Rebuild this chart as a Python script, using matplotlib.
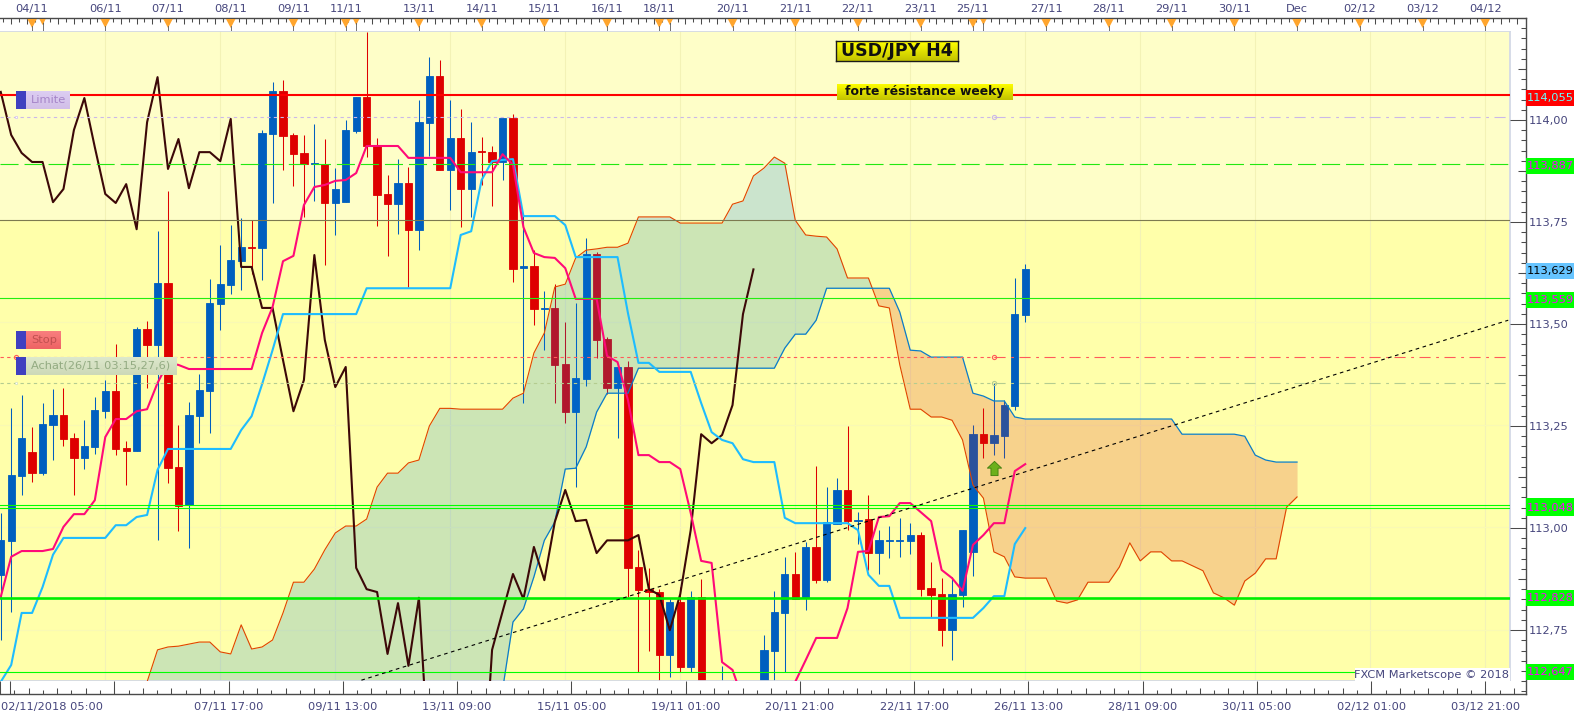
import numpy as np
import matplotlib
matplotlib.use("Agg")
import matplotlib.pyplot as plt
from matplotlib.patches import Rectangle
from matplotlib.path import Path

plt.rcParams['font.family'] = ['DejaVu Sans']
plt.rcParams['lines.scale_dashes'] = False

W, H = 1583, 720

# H4 candles, one row per 10 bars. bars 68-72 are below the visible range, guessed
opens = [
    112.883, 112.966, 113.125, 113.183, 113.132, 113.249, 113.274, 113.217, 113.169, 113.196,
    113.283, 113.332, 113.193, 113.186, 113.483, 113.444, 113.596, 113.147, 113.054, 113.271,
    113.332, 113.544, 113.591, 113.649, 113.683, 113.681, 113.959, 114.064, 113.957, 113.913,
    113.886, 113.886, 113.791, 113.793, 113.967, 114.049, 113.930, 113.813, 113.788, 113.840,
    113.725, 113.986, 114.101, 113.871, 113.949, 113.825, 113.918, 113.915, 113.891, 113.998,
    113.632, 113.637, 113.532, 113.535, 113.398, 113.281, 113.362, 113.666, 113.459, 113.339,
    113.391, 112.903, 112.849, 112.842, 112.689, 112.818, 112.659, 112.830, 112.408, 112.350,
    112.500, 112.420, 112.360, 112.300, 112.698, 112.791, 112.886, 112.828, 112.952, 112.871,
    113.008, 113.091, 113.015, 113.020, 112.937, 112.966, 112.966, 112.966, 112.981, 112.852,
    112.837, 112.749, 112.835, 112.940, 113.227, 113.205, 113.222, 113.295, 113.518]
highs = [
    113.034, 113.290, 113.322, 113.244, 113.303, 113.337, 113.339, 113.229, 113.261, 113.317,
    113.359, 113.447, 113.210, 113.488, 113.503, 113.722, 113.820, 113.249, 113.305, 113.374,
    113.606, 113.688, 113.737, 113.754, 113.749, 113.969, 114.086, 114.091, 113.962, 113.957,
    113.984, 113.947, 113.876, 113.993, 114.049, 114.208, 113.949, 113.859, 113.898, 113.879,
    114.042, 114.147, 114.140, 114.042, 114.020, 113.988, 113.952, 113.930, 113.998, 114.008,
    113.762, 113.676, 113.576, 113.593, 113.501, 113.547, 113.706, 113.671, 113.464, 113.391,
    113.406, 112.945, 112.901, 112.849, 112.825, 112.854, 112.845, 112.874, 112.450, 112.662,
    112.628, 112.500, 112.450, 112.737, 112.845, 112.928, 112.940, 112.964, 113.149, 113.098,
    113.120, 113.247, 113.037, 113.078, 112.993, 113.003, 113.023, 113.010, 112.988, 112.915,
    112.876, 112.879, 112.993, 113.249, 113.290, 113.352, 113.310, 113.608, 113.642]
lows = [
    112.725, 112.794, 113.078, 113.110, 113.127, 113.164, 113.198, 113.078, 113.142, 113.178,
    113.266, 113.176, 113.103, 113.186, 113.339, 112.968, 113.108, 112.991, 112.949, 113.205,
    113.229, 113.481, 113.569, 113.579, 113.618, 113.603, 113.791, 113.871, 113.832, 113.757,
    113.796, 113.640, 113.713, 113.793, 113.962, 113.903, 113.735, 113.662, 113.715, 113.586,
    113.676, 113.906, 113.871, 113.774, 113.732, 113.757, 113.835, 113.784, 113.847, 113.598,
    113.303, 113.493, 113.432, 113.303, 113.254, 113.098, 113.344, 113.413, 113.325, 113.217,
    112.830, 112.647, 112.698, 112.623, 112.635, 112.647, 112.647, 112.380, 112.300, 112.300,
    112.380, 112.300, 112.250, 112.270, 112.600, 112.647, 112.825, 112.798, 112.864, 112.866,
    113.008, 112.993, 112.959, 112.896, 112.886, 112.925, 112.928, 112.935, 112.832, 112.781,
    112.710, 112.676, 112.806, 112.881, 113.169, 113.176, 113.169, 113.286, 113.501]
closes = [
    112.968, 113.127, 113.217, 113.132, 113.251, 113.274, 113.215, 113.169, 113.198, 113.286,
    113.332, 113.191, 113.186, 113.483, 113.444, 113.596, 113.144, 113.052, 113.274, 113.335,
    113.547, 113.593, 113.652, 113.683, 113.681, 113.962, 114.064, 113.954, 113.910, 113.886,
    113.888, 113.791, 113.825, 113.969, 114.049, 113.930, 113.810, 113.788, 113.840, 113.725,
    113.988, 114.101, 113.871, 113.949, 113.825, 113.915, 113.915, 113.891, 113.998, 113.630,
    113.637, 113.532, 113.535, 113.396, 113.281, 113.364, 113.666, 113.457, 113.339, 113.391,
    112.901, 112.847, 112.842, 112.689, 112.818, 112.659, 112.830, 112.408, 112.350, 112.500,
    112.420, 112.360, 112.300, 112.701, 112.794, 112.886, 112.825, 112.952, 112.871, 113.013,
    113.091, 113.015, 113.018, 112.937, 112.968, 112.968, 112.968, 112.981, 112.849, 112.835,
    112.749, 112.837, 112.993, 113.227, 113.205, 113.225, 113.298, 113.520, 113.629]

tenkan = [
    112.830, 112.928, 112.942, 112.942, 112.942, 112.947, 113.001, 113.032, 113.032, 113.066,
    113.220, 113.264, 113.264, 113.283, 113.288, 113.352, 113.401, 113.396, 113.386, 113.386,
    113.386, 113.386, 113.386, 113.386, 113.386, 113.474, 113.537, 113.649, 113.662, 113.786,
    113.830, 113.835, 113.845, 113.847, 113.864, 113.930, 113.930, 113.930, 113.930, 113.901,
    113.901, 113.901, 113.901, 113.901, 113.866, 113.866, 113.866, 113.866, 113.910, 113.884,
    113.732, 113.669, 113.659, 113.657, 113.632, 113.557, 113.557, 113.557, 113.418, 113.403,
    113.310, 113.176, 113.176, 113.159, 113.159, 113.142, 113.035, 112.918, 112.913, 112.671,
    112.652, 112.579, 112.554, 112.554, 112.579, 112.603, 112.623, 112.676, 112.730, 112.730,
    112.730, 112.803, 112.940, 112.942, 113.025, 113.027, 113.059, 113.059, 113.037, 113.015,
    112.896, 112.876, 112.845, 112.957, 112.981, 113.010, 113.010, 113.137, 113.154]
kijun = [
    112.623, 112.664, 112.791, 112.791, 112.854, 112.933, 112.974, 112.974, 112.974, 112.974,
    112.974, 113.005, 113.005, 113.025, 113.030, 113.140, 113.191, 113.191, 113.191, 113.191,
    113.191, 113.191, 113.191, 113.237, 113.271, 113.349, 113.432, 113.520, 113.520, 113.520,
    113.520, 113.520, 113.520, 113.520, 113.520, 113.583, 113.583, 113.583, 113.583, 113.583,
    113.583, 113.583, 113.583, 113.583, 113.713, 113.722, 113.847, 113.893, 113.896, 113.898,
    113.759, 113.759, 113.759, 113.759, 113.737, 113.659, 113.659, 113.659, 113.659, 113.659,
    113.522, 113.401, 113.401, 113.379, 113.379, 113.379, 113.379, 113.303, 113.232, 113.213,
    113.205, 113.166, 113.159, 113.159, 113.159, 113.023, 113.010, 113.010, 113.010, 113.010,
    113.010, 113.010, 112.993, 112.884, 112.857, 112.857, 112.779, 112.779, 112.779, 112.779,
    112.779, 112.779, 112.779, 112.779, 112.803, 112.832, 112.832, 112.959, 112.998]
chikou = [
    114.062, 113.957, 113.913, 113.891, 113.891, 113.793, 113.825, 113.969, 114.047, 113.927,
    113.813, 113.791, 113.837, 113.727, 113.988, 114.098, 113.874, 113.947, 113.827, 113.915,
    113.915, 113.893, 113.996, 113.635, 113.635, 113.535, 113.535, 113.408, 113.283, 113.359,
    113.664, 113.457, 113.342, 113.391, 112.901, 112.849, 112.842, 112.691, 112.815, 112.662,
    112.828, 112.408, 112.350, 112.500, 112.420, 112.360, 112.300, 112.701, 112.794, 112.886,
    112.825, 112.952, 112.871, 113.013, 113.091, 113.015, 113.018, 112.937, 112.968, 112.968,
    112.968, 112.981, 112.849, 112.835, 112.749, 112.837, 112.993, 113.227, 113.205, 113.225,
    113.298, 113.520, 113.629]

# cloud starts at bar 13, ends at bar 124
span_orange = [
    112.579, 112.623, 112.701, 112.708, 112.710, 112.715, 112.720, 112.720, 112.696, 112.691,
    112.762, 112.703, 112.708, 112.725, 112.791, 112.866, 112.866, 112.898, 112.945, 112.986,
    113.003, 113.003, 113.020, 113.098, 113.132, 113.132, 113.157, 113.164, 113.247, 113.290,
    113.290, 113.288, 113.288, 113.288, 113.288, 113.288, 113.315, 113.327, 113.425, 113.474,
    113.586, 113.593, 113.657, 113.676, 113.679, 113.683, 113.683, 113.693, 113.757, 113.757,
    113.757, 113.757, 113.742, 113.742, 113.742, 113.742, 113.742, 113.788, 113.796, 113.857,
    113.876, 113.903, 113.888, 113.749, 113.713, 113.710, 113.708, 113.679, 113.608, 113.608,
    113.608, 113.540, 113.535, 113.396, 113.288, 113.288, 113.269, 113.269, 113.261, 113.213,
    113.103, 113.071, 112.940, 112.928, 112.879, 112.876, 112.876, 112.876, 112.820, 112.815,
    112.823, 112.866, 112.866, 112.866, 112.903, 112.962, 112.918, 112.940, 112.940, 112.918,
    112.918, 112.906, 112.894, 112.840, 112.828, 112.810, 112.869, 112.888, 112.923, 112.923,
    113.049, 113.074]
# first 34 values are under the chart, guessed
span_blue = [112.30] * 34 + [
    112.481, 112.603, 112.769, 112.801, 112.879, 112.968, 113.013, 113.142, 113.144, 113.196,
    113.281, 113.327, 113.327, 113.327, 113.388, 113.388, 113.388, 113.388, 113.388, 113.388,
    113.388, 113.388, 113.388, 113.388, 113.388, 113.388, 113.388, 113.388, 113.437, 113.471,
    113.471, 113.505, 113.583, 113.583, 113.583, 113.583, 113.583, 113.583, 113.583, 113.525,
    113.432, 113.430, 113.415, 113.415, 113.415, 113.415, 113.327, 113.320, 113.308, 113.308,
    113.269, 113.264, 113.264, 113.264, 113.264, 113.264, 113.264, 113.264, 113.264, 113.264,
    113.264, 113.264, 113.264, 113.264, 113.264, 113.264, 113.227, 113.227, 113.227, 113.227,
    113.227, 113.227, 113.222, 113.176, 113.164, 113.159, 113.159, 113.159]

trend_x = [34.5, 144.2]
trend_y = [112.627, 113.505]

# (label, price, bg colour, text colour)
price_tags = [
    ('114,055', 114.055, '#ff0000', '#66ffff'),
    ('113,887', 113.887, '#00ff00', '#ff00ff'),
    ('113,629', 113.629, '#66c4ff', '#000000'),
    ('113,559', 113.559, '#00ff00', '#ff00ff'),
    ('', 113.055, '#00ff00', '#ff00ff'),
    ('113,048', 113.048, '#00ff00', '#ff00ff'),
    ('112,828', 112.828, '#00ff00', '#ff00ff'),
    ('112,647', 112.647, '#00ff00', '#ff00ff'),
]

top_ticks = [3, 4, 10, 16, 22, 28, 33, 34, 40, 46, 52, 58, 63, 64, 70, 76, 82, 88, 93, 94,
             100, 106, 112, 118, 124, 130, 136, 142]
top_small = [4, 34, 64, 94]
top_labels = ['04/11', '', '06/11', '07/11', '08/11', '09/11', '11/11', '', '13/11', '14/11',
              '15/11', '16/11', '18/11', '', '20/11', '21/11', '22/11', '23/11', '25/11', '',
              '27/11', '28/11', '29/11', '30/11', 'Dec', '02/12', '03/12', '04/12']
bottom_ticks = [-1, 10, 21, 32, 43, 54, 65, 76, 87, 98, 109, 120, 131, 142]
bottom_labels = ['', '', '07/11 17:00', '09/11 13:00', '13/11 09:00', '15/11 05:00',
                 '19/11 01:00', '20/11 21:00', '22/11 17:00', '26/11 13:00', '28/11 09:00',
                 '30/11 05:00', '02/12 01:00', '03/12 21:00']
price_ticks = [112.75, 113.00, 113.25, 113.50, 113.75, 114.00]
price_labels = ['112,75', '113,00', '113,25', '113,50', '113,75', '114,00']

BLUE = '#005fbf'
RED = '#de0000'
AXC = '#4a4a4a'
TXT = '#45457c'
FRAME = '#d3d9e6'
FS = 8.2


def px_axes(x0, y0, x1, y1, **kw):
    return fig.add_axes([x0 / W, 1 - y1 / H, (x1 - x0) / W, (y1 - y0) / H], **kw)


def box(x0, y0, x1, y1, top, bottom, edge=None):
    # little gradient box, drawn above the chart
    b = px_axes(x0, y0, x1, y1, zorder=5)
    c0 = np.array(matplotlib.colors.to_rgb(top))
    c1 = np.array(matplotlib.colors.to_rgb(bottom))
    grad = np.linspace(0, 1, 16)[:, None, None] * (c1 - c0) + c0
    b.imshow(grad, aspect='auto', interpolation='bilinear')
    b.set_xticks([])
    b.set_yticks([])
    for s in b.spines.values():
        s.set_visible(edge is not None)
        if edge:
            s.set_color(edge)
            s.set_linewidth(1)


def label(x, y, s, **kw):
    fig.text(x / W, 1 - y / H, s, zorder=6, va='center', **kw)


fig = plt.figure(figsize=(W / 100, H / 100), dpi=100)

XL = (-0.07, 144.37)
YL = (112.625, 114.2105)

# ---- main plot
ax = px_axes(0, 31, 1510, 681)
ax.set_xlim(XL)
ax.set_ylim(YL)
ax.set_facecolor('#ffffaa')
ax.axhspan(113.75, YL[1], color='#fefec8', lw=0, zorder=0)
for x in bottom_ticks[1:]:
    ax.axvline(x, color='#f3f2b6', lw=0.8, zorder=0.5)
for p in [112.75, 113.00, 113.25, 113.50]:
    ax.axhline(p, color='#f9f9b4', lw=0.8, zorder=0.5)

idx = np.arange(len(closes))
o = np.array(opens)
c = np.array(closes)
up = c >= o
cols = [BLUE if u else RED for u in up]
ax.vlines(idx, lows, highs, colors=cols, lw=0.75, zorder=2)
ax.bar(idx, np.abs(c - o), 0.7, bottom=np.minimum(o, c), color=cols, edgecolor=cols, lw=0.6, zorder=2)

# cloud, over the candles
sx = np.arange(13, 125)
sa = np.array(span_orange)
sb = np.array(span_blue)
ax.fill_between(sx, sa, sb, where=sa >= sb, interpolate=True, color=(0, 125 / 255, 230 / 255),
                alpha=0.2, lw=0, zorder=2.5)
ax.fill_between(sx, sa, sb, where=sa <= sb, interpolate=True, color=(215 / 255, 30 / 255, 20 / 255),
                alpha=0.2, lw=0, zorder=2.5)
ax.plot(sx, sa, color='#e04400', lw=0.8, zorder=2.8)
ax.plot(sx, sb, color='#0a7cc8', lw=0.9, zorder=2.8)

ax.plot(np.arange(len(chikou)), chikou, color='#3c0808', lw=1.5, zorder=3)
ax.plot(idx, kijun, color='#1ebcff', lw=1.5, zorder=3.1)
ax.plot(idx, tenkan, color='#ff0a78', lw=1.5, zorder=3.2)

# horizontal levels
ax.axhline(114.055, color='#ff0000', lw=1.5, zorder=4)
ax.axhline(113.75, color='#7d7a50', lw=0.8, zorder=4)
ax.axhline(113.559, color='#22ee11', lw=0.8, zorder=4)
ax.axhline(113.055, color='#00ff00', lw=0.8, zorder=4)
ax.axhline(113.048, color='#00ff00', lw=0.8, zorder=4)
ax.axhline(112.828, color='#00ee00', lw=1.9, zorder=4)
ax.axhline(112.647, color='#00ff00', lw=0.8, zorder=4)
ax.plot(XL, [113.887, 113.887], color='#22e811', lw=0.8, zorder=4, ls=(0, (13, 4.3)))

for price, col in [(114.00, '#cbb8e8'), (113.416, '#ff5a5a'), (113.351, '#b4cc90')]:
    ax.plot([XL[0], 95], [price, price], color=col, lw=0.8, zorder=4, ls=(0, (2.4, 2.4)))
    ax.plot([95, XL[1] - 0.3], [price, price], color=col, lw=0.8, zorder=4, ls=(0, (8, 4, 2, 4)))
    ax.plot([95], [price], 'o', ms=3, mfc='none', mec=col, mew=0.8, zorder=4)
ax.plot([1.46], [113.416], 'o', ms=3, mfc='none', mec='#ff5a5a', mew=0.8, zorder=4)
ax.plot([1.46], [113.351], 's', ms=2, mfc='white', mec='#d8e4c4', mew=0.6, zorder=4)
ax.plot([1.46], [114.00], 's', ms=2, mfc='white', mec='#d8c8ee', mew=0.6, zorder=4)

ax.plot(trend_x, trend_y, color='black', lw=0.8, zorder=4.2, ls=(0, (2.6, 2.6)))

# buy arrow
arrow = Path([(0, 1), (1, 0.05), (0.5, 0.05), (0.5, -1), (-0.5, -1), (-0.5, 0.05), (-1, 0.05), (0, 1)], closed=True)
ax.scatter([95], [113.1445], marker=arrow, s=105, color='#6cb01c', edgecolors='#3f7d0c', lw=0.6, zorder=5)

ax.set_xticks([])
ax.set_yticks([])
ax.spines['left'].set_visible(False)
for s in ['top', 'right', 'bottom']:
    ax.spines[s].set_color(FRAME)
    ax.spines[s].set_linewidth(1.3)

# ---- top ruler
top = px_axes(0, 18, 1525.7, 31)
top.set_xlim(XL[0], 145.87)
top.set_ylim(13, 0)
rk = np.arange(-69, 125)
rpos = 52 + rk * 0.75
top.vlines(rpos[rk % 2 == 0], 0, 6, color=AXC, lw=0.75)
top.vlines(rpos[rk % 2 == 1], 0, 4, color=AXC, lw=0.75)
for t in top_ticks:
    small = t in top_small
    hw, hh = (0.3, 6) if small else (0.45, 9)
    top.fill([t - hw, t + hw, t], [1, 1, 1 + hh], color='#ffa52d', lw=0, zorder=3)
    top.plot([t, t], [1 + hh - 2, 13], color='#5a5a5a', lw=0.6, zorder=3)
top.xaxis.tick_top()
top.set_xticks(top_ticks, top_labels, color=TXT, fontsize=FS)
top.tick_params(axis='x', length=0, pad=3.2)
top.set_yticks([])
for s in ['left', 'right', 'bottom']:
    top.spines[s].set_visible(False)
top.spines['top'].set_color(AXC)
top.spines['top'].set_linewidth(1)

# ---- bottom ruler
bot = px_axes(0, 681, 1525.7, 694)
bot.set_xlim(XL[0], 145.87)
bot.set_ylim(0, 13)
bk = np.arange(-8, 100)
bpos = 10 + bk * 11 / 8
bot.vlines(bpos[bk % 2 == 0], 0, 6, color=AXC, lw=0.75)
bot.vlines(bpos[bk % 2 == 1], 0, 4, color=AXC, lw=0.75)
bot.vlines(bpos[bk % 8 == 0], 0, 13, color=AXC, lw=0.75)
bot.vlines([0], 0, 13, color=AXC, lw=0.75)
bot.set_xticks(bottom_ticks, bottom_labels, color=TXT, fontsize=FS)
bot.tick_params(axis='x', length=0, pad=5.5)
bot.set_yticks([])
for s in ['left', 'right', 'top']:
    bot.spines[s].set_visible(False)
bot.spines['bottom'].set_color(AXC)
bot.spines['bottom'].set_linewidth(1)
label(1, 707, '02/11/2018 05:00', color=TXT, fontsize=FS)

# ---- price axis
right = px_axes(1510, 18, 1525.7, 694)
right.set_xlim(0, 15.7)
right.set_ylim(112.5934, 114.2422)
right.patch.set_alpha(0)
right.yaxis.tick_right()
right.set_yticks(price_ticks, price_labels, color=TXT, fontsize=FS)
right.set_yticks(np.arange(112.6, 114.25, 0.025), minor=True)
right.tick_params(axis='y', which='major', direction='in', length=11.3, width=0.75, color=AXC, pad=2.4)
right.tick_params(axis='y', which='minor', direction='in', length=3.6, width=0.75, color=AXC)
right.hlines([112.875, 113.125, 113.375, 113.625, 113.875, 114.125], 7.7, 15.7, color=AXC, lw=0.75)
right.set_xticks([])
for s in ['left', 'top', 'bottom']:
    right.spines[s].set_visible(False)
right.spines['right'].set_color(AXC)
right.spines['right'].set_linewidth(1)

for txt, price, bg, fg in price_tags:
    right.add_patch(Rectangle((15.7, price - 0.0195), 48.3, 0.039, color=bg, lw=0, clip_on=False, zorder=6))
    right.text(16.7, price, txt, color=fg, fontsize=FS, va='center', clip_on=False, zorder=7)

# ---- chart annotations
box(836, 41, 958, 61, '#ffff00', '#c4c400', edge='#1a1a1a')
label(897, 51, 'USD/JPY H4', color='#101010', fontsize=12.5, fontweight='bold', ha='center')
box(837, 84, 1013, 100, '#ffff00', '#c4c400')
label(925, 92, 'forte résistance weeky', color='#101010', fontsize=8.9, fontweight='bold', ha='center')

box(16, 91, 26, 109, '#4040c0', '#4040c0')
box(26, 91, 70, 109, '#dccdf2', '#d2bfe8')
label(31, 100, 'Limite', color='#a584c8', fontsize=FS)
box(16, 331, 26, 349, '#4040c0', '#4040c0')
box(26, 331, 61, 349, '#f98080', '#ee6464')
label(31, 340, 'Stop', color='#c05050', fontsize=FS)
box(16, 357, 26, 375, '#4040c0', '#4040c0')
box(26, 357, 177, 375, '#dde8cc', '#cdd9b8')
label(31, 366, 'Achat(26/11 03:15,27,6)', color='#93ab82', fontsize=FS)

box(1355, 668, 1510, 681, '#ffffff', '#ffffff')
label(1509, 675, 'FXCM Marketscope © 2018', color=TXT, fontsize=FS, ha='right')

fig.savefig('out.png', dpi=100)
